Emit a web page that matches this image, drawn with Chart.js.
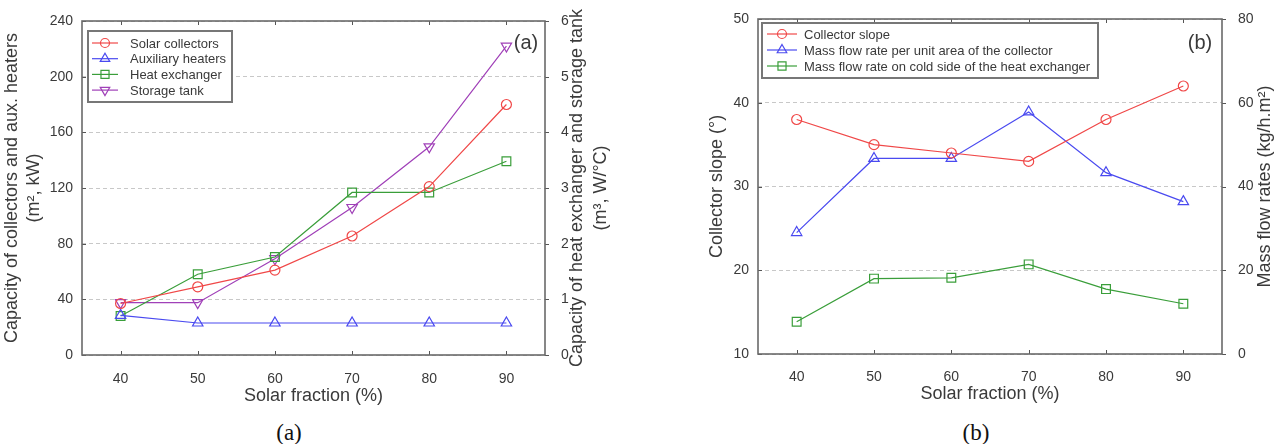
<!DOCTYPE html>
<html>
<head>
<meta charset="utf-8">
<script src="https://cdn.jsdelivr.net/npm/chart.js@4/dist/chart.umd.min.js"></script>
<style>
  body { margin: 0; background: #fff; }
  #wrap { position: relative; width: 1284px; height: 444px; overflow: hidden; }
  canvas { position: absolute; top: 0; }
  .caption { position: absolute; font-family: 'Liberation Serif', 'Times New Roman', serif; font-size: 23px; color: #111; transform: translate(-50%, -50%); }
</style>
</head>
<body>
<div id="wrap">
  <canvas id="chartA" width="642" height="410" style="left:0"></canvas>
  <canvas id="chartB" width="642" height="410" style="left:642px"></canvas>
  <div class="caption" style="left:289px; top:433px">(a)</div>
  <div class="caption" style="left:976px; top:433px">(b)</div>
</div>
<script>
// Solar fraction categories (shared x axis)
const solarFraction = ['40', '50', '60', '70', '80', '90'];

// Chart (a): left axis (m2, kW)
const solarCollectors = [37, 49, 61, 85.5, 121, 180];
const auxiliaryHeaters = [28.5, 23, 23, 23, 23, 23];
// Chart (a): right axis (m3, W/C)
const heatExchanger = [0.7, 1.45, 1.76, 2.92, 2.92, 3.48];
const storageTank = [0.94, 0.94, 1.73, 2.65, 3.74, 5.55];

// Chart (b): left axis (degrees)
const collectorSlope = [38, 35, 34, 33, 38, 42];
// Chart (b): right axis (kg/h.m2)
const massFlowCollector = [29, 46.7, 46.7, 57.8, 43.3, 36.4];
const massFlowHx = [7.7, 18, 18.2, 21.4, 15.5, 12];

const FONT = "'Liberation Sans', Arial, Helvetica, sans-serif";
const TEXT = '#3a3a3a';
const RED = '#f04848', BLUE = '#4a4af0', GREEN = '#3a9e3a', PURPLE = '#a040b8';

function series(label, data, color, style, axis, extra) {
    return Object.assign({
        label: label,
        data: data,
        yAxisID: axis,
        borderColor: color,
        backgroundColor: 'transparent',
        borderWidth: 1.2,
        pointStyle: style,
        pointRadius: 5,
        pointBorderWidth: 1.2,
        pointBorderColor: color,
        pointBackgroundColor: 'transparent',
        tension: 0
    }, extra || {});
}

// draws the frame, inside ticks, axis titles, tag and the boxed legend
const framePlugin = {
    id: 'frame',
    afterDraw(chart, args, o) {
        const { ctx, chartArea: a, scales } = chart;
        ctx.save();

        // tick marks
        ctx.strokeStyle = '#555';
        ctx.lineWidth = 1;
        ctx.beginPath();
        scales.x.ticks.forEach((t, i) => {
            const x = Math.round(scales.x.getPixelForTick(i)) + 0.5;
            ctx.moveTo(x, a.top); ctx.lineTo(x, a.top + 4);
            ctx.moveTo(x, a.bottom); ctx.lineTo(x, a.bottom - 4);
        });
        scales.y.ticks.forEach((t, i) => {
            const y = Math.round(scales.y.getPixelForTick(i)) + 0.5;
            ctx.moveTo(a.left, y); ctx.lineTo(a.left + 4, y);
        });
        scales.y1.ticks.forEach((t, i) => {
            const y = Math.round(scales.y1.getPixelForTick(i)) + 0.5;
            ctx.moveTo(a.right, y); ctx.lineTo(a.right + 4, y);
        });
        ctx.stroke();

        // frame
        ctx.strokeStyle = '#6a6a6a';
        ctx.lineWidth = 1.6;
        ctx.strokeRect(a.left, a.top, a.width, a.height);

        // axis titles
        ctx.fillStyle = TEXT;
        ctx.font = '18px ' + FONT;
        ctx.textAlign = 'center';
        ctx.textBaseline = 'middle';
        const midY = (a.top + a.bottom) / 2;
        ctx.fillText(o.xTitle, (a.left + a.right) / 2, o.xTitleY);
        [[o.leftTitle, o.leftX], [o.rightTitle, o.rightX]].forEach(([lines, xs]) => {
            lines.forEach((line, i) => {
                ctx.save();
                ctx.translate(xs[i], midY);
                ctx.rotate(-Math.PI / 2);
                ctx.fillText(line, 0, 0);
                ctx.restore();
            });
        });

        // panel tag
        ctx.font = '20px ' + FONT;
        ctx.fillText(o.tag, o.tagX, o.tagY);

        // legend box
        const L = o.legend;
        ctx.fillStyle = '#fff';
        ctx.fillRect(L.x, L.y, L.w, L.h);
        ctx.strokeStyle = '#777';
        ctx.lineWidth = 2;
        ctx.strokeRect(L.x, L.y, L.w, L.h);
        ctx.font = '13px ' + FONT;
        ctx.textAlign = 'left';
        chart.data.datasets.forEach((ds, i) => {
            const y = L.rowY + i * L.step;
            ctx.strokeStyle = ds.borderColor;
            ctx.lineWidth = 1.2;
            ctx.beginPath();
            ctx.moveTo(L.lineX0, y); ctx.lineTo(L.lineX1, y);
            ctx.stroke();
            // hollow marker
            ctx.fillStyle = 'rgba(0,0,0,0)';
            Chart.helpers.drawPoint(ctx, {
                pointStyle: ds.pointStyle,
                rotation: ds.pointRotation || 0,
                radius: ds.pointRadius - 0.5,
                borderWidth: 1.2
            }, (L.lineX0 + L.lineX1) / 2, y);
            ctx.fillStyle = TEXT;
            ctx.fillText(ds.label, L.textX, y + 1);
        });
        ctx.restore();
    }
};

function makeChart(id, datasets, yLeft, yRight, dims, frameOpts) {
    const ctx = document.getElementById(id).getContext('2d');
    return new Chart(ctx, {
        type: 'line',
        data: { labels: solarFraction, datasets: datasets },
        plugins: [framePlugin],
        options: {
            responsive: false,
            animation: false,
            layout: { padding: { top: dims.top, left: 0, right: 0, bottom: 0 } },
            plugins: {
                legend: { display: false },
                tooltip: { enabled: false },
                frame: frameOpts
            },
            scales: {
                x: {
                    type: 'category',
                    offset: true,
                    grid: { display: false },
                    border: { display: false },
                    ticks: { color: TEXT, font: { family: FONT, size: 14 }, padding: dims.xPad },
                    afterFit: s => { s.height = dims.xHeight; }
                },
                y: Object.assign({
                    position: 'left',
                    grid: { color: '#c8c8c8', lineWidth: 1, drawTicks: false },
                    border: { display: false, dash: [4, 3] },
                    afterFit: s => { s.width = dims.leftW; }
                }, yLeft),
                y1: Object.assign({
                    position: 'right',
                    grid: { display: false, drawOnChartArea: false },
                    border: { display: false },
                    afterFit: s => { s.width = dims.rightW; }
                }, yRight)
            }
        }
    });
}

const tickFont = { family: FONT, size: 14 };

// Chart (a)
makeChart('chartA', [
    series('Solar collectors', solarCollectors, RED, 'circle', 'y'),
    series('Auxiliary heaters', auxiliaryHeaters, BLUE, 'triangle', 'y', { pointRadius: 6 }),
    series('Heat exchanger', heatExchanger, GREEN, 'rect', 'y1', { pointRadius: 6.2 }),
    series('Storage tank', storageTank, PURPLE, 'triangle', 'y1', { pointRadius: 6, pointRotation: 180 })
], { min: 0, max: 240, ticks: { stepSize: 40, color: TEXT, font: tickFont, padding: 9 } },
   { min: 0, max: 6, ticks: { stepSize: 1, color: TEXT, font: tickFont, padding: 8 } },
   { top: 21, leftW: 82, rightW: 97, xHeight: 55, xPad: 8 },
   {
       xTitle: 'Solar fraction (%)', xTitleY: 396,
       leftTitle: ['Capacity of collectors and aux. heaters', '(m\u00B2, kW)'], leftX: [12, 34],
       rightTitle: ['Capacity of heat exchanger and storage tank', '(m\u00B3, W/\u00B0C)'], rightX: [577, 601],
       tag: '(a)', tagX: 526, tagY: 43,
       legend: { x: 88, y: 31, w: 144, h: 71, rowY: 43, step: 15.7, lineX0: 92, lineX1: 118, textX: 130 }
   });

// Chart (b)
makeChart('chartB', [
    series('Collector slope', collectorSlope, RED, 'circle', 'y'),
    series('Mass flow rate per unit area of the collector', massFlowCollector, BLUE, 'triangle', 'y1', { pointRadius: 6 }),
    series('Mass flow rate on cold side of the heat exchanger', massFlowHx, GREEN, 'rect', 'y1', { pointRadius: 6.2 })
], { min: 10, max: 50, ticks: { stepSize: 10, color: TEXT, font: tickFont, padding: 9 } },
   { min: 0, max: 80, ticks: { stepSize: 20, color: TEXT, font: tickFont, padding: 8 } },
   { top: 19, leftW: 116, rightW: 62, xHeight: 56, xPad: 7 },
   {
       xTitle: 'Solar fraction (%)', xTitleY: 394,
       leftTitle: ['Collector slope (\u00B0)'], leftX: [75],
       rightTitle: ['Mass flow rates (kg/h.m\u00B2)'], rightX: [623],
       tag: '(b)', tagX: 558, tagY: 43,
       legend: { x: 120, y: 23, w: 336, h: 55, rowY: 34, step: 16, lineX0: 125, lineX1: 155, textX: 162 }
   });
</script>
</body>
</html>
